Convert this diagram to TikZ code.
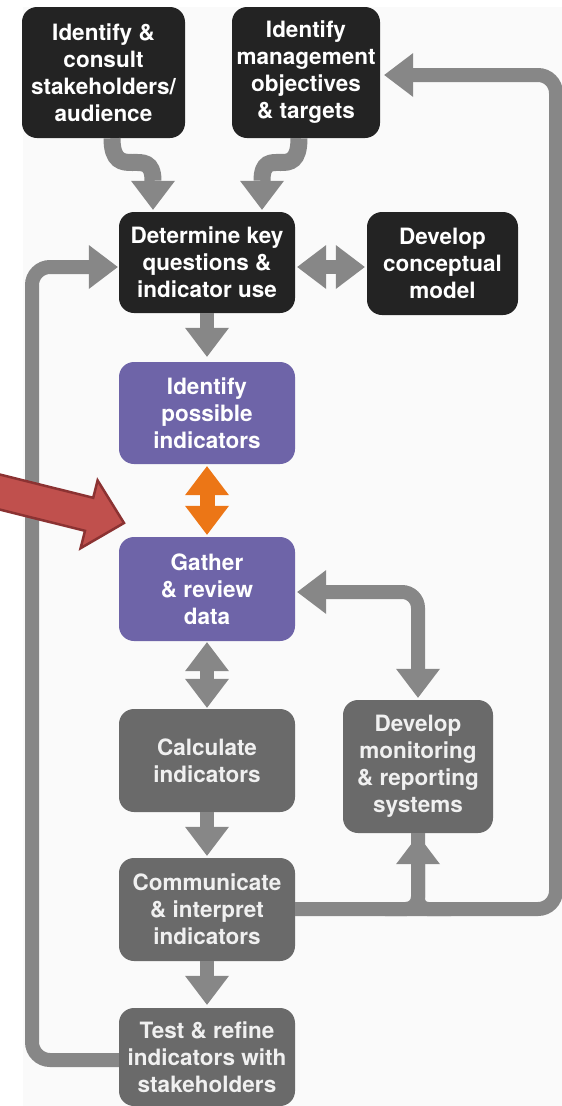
\documentclass[tikz,border=0pt]{standalone}
\usepackage{fontspec}
\setmainfont{TeX Gyre Heros}
\usetikzlibrary{arrows.meta}
\definecolor{boxblack}{HTML}{232323}
\definecolor{boxpurple}{HTML}{6E64A8}
\definecolor{boxgray}{HTML}{6A6A6A}
\definecolor{conngray}{HTML}{878787}
\definecolor{hiorange}{HTML}{EC7616}
\definecolor{redfill}{HTML}{C0504D}
\definecolor{redline}{HTML}{8B3232}
\definecolor{bgpale}{HTML}{FAFAFA}
\begin{document}
\begin{tikzpicture}[x=1pt,y=-1pt,
  box/.style={rectangle, rounded corners=15pt, minimum width=176pt, minimum height=102pt,
    inner sep=0pt, align=center, text=white, font=\fontsize{22.5}{27}\selectfont\bfseries},
  blackbox/.style={box, fill=boxblack},
  purplebox/.style={box, fill=boxpurple},
  graybox/.style={box, fill=boxgray, text=white!94!black},
  conn/.style={draw=conngray, line width=14pt},
  onehead/.style={-{Triangle[width=44pt,length=29pt,line width=0pt]}},
  twohead/.style={{Triangle[width=44pt,length=29pt,line width=0pt]}-{Triangle[width=44pt,length=29pt,line width=0pt]}},
]
\useasboundingbox (0,0) rectangle (562,1106);
\fill[white] (0,0) rectangle (562,1106);
\fill[bgpale] (23,7) rectangle (562,1106);

% boxes
\node[blackbox, minimum width=163pt, minimum height=131pt] (b1) at (103.5,72.5) {Identify \&\\consult\\stakeholders/\\audience};
\node[blackbox, minimum width=148pt, minimum height=131pt] (b2) at (306,72.5) {Identify\\management\\objectives\\\& targets};
\node[blackbox, minimum height=101pt] (det) at (207,262.5) {Determine key\\questions \&\\indicator use};
\node[blackbox, minimum width=151pt, minimum height=103pt] (dcm) at (442.5,263.5) {Develop\\conceptual\\model};
\node[purplebox] (pi) at (207,413) {Identify\\possible\\indicators};
\node[purplebox, minimum height=104pt] (gd) at (207,589) {Gather\\\& review\\data};
\node[graybox, minimum height=103pt] (ci) at (207,760.5) {Calculate\\indicators};
\node[graybox, minimum width=150pt, minimum height=133pt] (mon) at (418,766.5) {Develop\\monitoring\\\& reporting\\systems};
\node[graybox, minimum height=103pt] (com) at (207,909.5) {Communicate\\\& interpret\\indicators};
\node[graybox, minimum height=98pt] (tr) at (207,1057) {Test \& refine\\indicators with\\stakeholders};

% named coordinates for connector bends
\coordinate (hA) at (0,267);
\coordinate (gA) at (418,592);
\coordinate (lA) at (32,1060);
\coordinate (lB) at (32,267);
\coordinate (rA) at (556,909);
\coordinate (rB) at (556,75);
\coordinate (bA) at (385,909);
\coordinate (bB) at (451,909);

% curved arrows from the top boxes
\draw[conn, line width=17pt, onehead, shorten >=2pt] ([xshift=8.5pt]b1.south) .. controls +(0,47) and +(0,-70) .. ([xshift=-54pt]det.north);
\draw[conn, line width=17pt, onehead, shorten >=2pt] ([xshift=-7pt]b2.south) .. controls +(0,47) and +(0,-70) .. ([xshift=55pt]det.north);

% straight connectors
\draw[conn, twohead, shorten <=2pt, shorten >=2pt] (det.east |- hA) -- (dcm.west |- hA);
\draw[conn, onehead, shorten >=5pt] (det) -- (pi);
\draw[draw=hiorange, line width=15pt, twohead, shorten <=2pt, shorten >=2pt] (pi) -- (gd);
\draw[conn, twohead, shorten <=1pt, shorten >=1pt] (gd) -- (ci);
\draw[conn, onehead, shorten >=2pt] (ci) -- (com);
\draw[conn, onehead, shorten >=3pt] (com) -- (tr);

% gather <-> monitoring
\draw[conn, twohead, rounded corners=16pt, shorten <=2pt, shorten >=2pt] (gd.east |- gA) -| (mon.north);

% left feedback loop
\draw[conn, onehead, rounded corners=18pt, shorten >=1pt] (tr.west |- lA) -- (lA) -- (lB) -- (det.west |- lB);

% right feedback loop
\draw[conn, onehead, rounded corners=18pt, shorten >=4pt] (com.east |- rA) -- (rA) -- (rB) -- (b2.east |- rB);

% branch up to monitoring
\draw[conn, rounded corners=10pt] (bB) -| (mon.south);
\draw[conn, onehead, rounded corners=12pt, shorten >=2pt] (bA) -| (mon.south);

% red highlight arrow
\filldraw[fill=redfill, draw=redline, line width=2.5pt, line join=miter]
  (-23.2,468.8) -- (93.2,497.8) -- (97.6,480.4) -- (124,523) -- (80.6,548.2) -- (85,530.8) -- (-31.4,501.8) -- cycle;
\end{tikzpicture}
\end{document}
